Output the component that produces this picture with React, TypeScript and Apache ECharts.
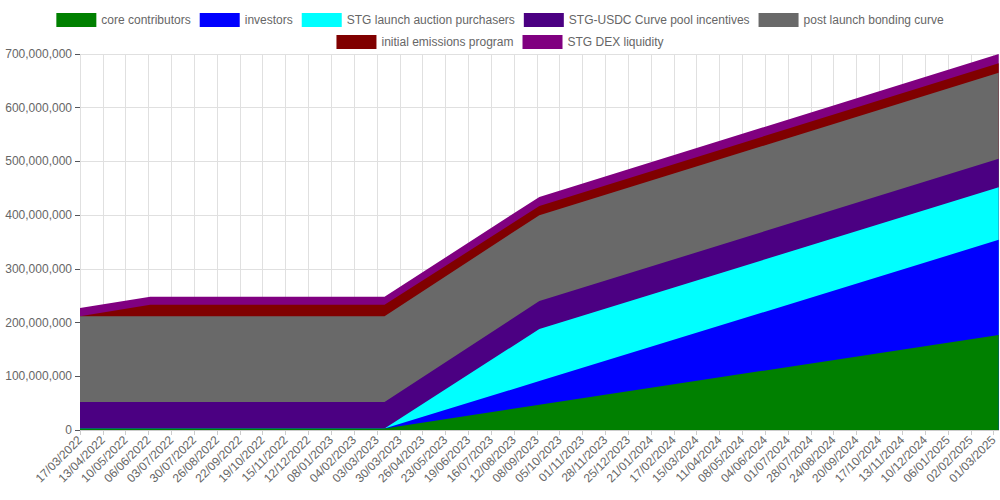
import React, { useEffect, useRef } from 'react';
import * as echarts from 'echarts';

// day offsets from 17/03/2022 where the schedule changes
const days = [0, 83, 360, 543, 1086];
const coreContributors = [3, 3, 3, 47, 177];
const investors = [0, 0, 0, 44, 177];
const auctionPurchasers = [0, 0, 0, 97, 98];
const curvePoolIncentives = [49, 49, 49, 52, 53];
const bondingCurve = [160, 160, 160, 160, 160];
const emissionsProgram = [0, 21, 21, 17, 18];
const dexLiquidity = [15, 15, 15, 17, 17];

const names = [
  'core contributors',
  'investors',
  'STG launch auction purchasers',
  'STG-USDC Curve pool incentives',
  'post launch bonding curve',
  'initial emissions program',
  'STG DEX liquidity',
];
const colors = ['#008000', '#0000ff', '#00ffff', '#4b0082', '#696969', '#800000', '#800080'];
const values = [
  coreContributors, investors, auctionPurchasers, curvePoolIncentives,
  bondingCurve, emissionsProgram, dexLiquidity,
];

const start = Date.UTC(2022, 2, 17);
const fmtDate = (d: number) => {
  const t = new Date(start + d * 86400000);
  const p = (n: number) => String(n).padStart(2, '0');
  return `${p(t.getUTCDate())}/${p(t.getUTCMonth() + 1)}/${t.getUTCFullYear()}`;
};

// running totals, so each area can be filled down to zero
const cumulative = values.map((_, i) =>
  days.map((_, j) => values.slice(0, i + 1).reduce((s, v) => s + v[j], 0))
);

const legendBase = {
  left: 'center',
  itemWidth: 40,
  itemHeight: 14,
  itemGap: 9,
  icon: 'rect',
  textStyle: { color: '#666', fontSize: 12 },
};

const App: React.FC = () => {
  const chartRef = useRef<HTMLDivElement>(null);

  useEffect(() => {
    const chart = echarts.init(chartRef.current!, null, { renderer: 'svg' });
    chart.setOption({
      animation: false,
      textStyle: { fontFamily: 'Arial, Liberation Sans, sans-serif' },
      color: colors,
      legend: [
        { ...legendBase, top: 8, data: names.slice(0, 5) },
        { ...legendBase, top: 30, data: names.slice(5) },
      ],
      grid: { left: 80, right: 0, top: 54, bottom: 70 },
      xAxis: {
        type: 'value',
        min: 0,
        max: 1086,
        interval: 27,
        axisLine: { lineStyle: { color: '#ccc' } },
        axisTick: { show: true, lineStyle: { color: '#ccc' } },
        splitLine: { show: true, lineStyle: { color: '#e0e0e0' } },
        axisLabel: {
          rotate: 45,
          color: '#666',
          fontSize: 12,
          showMaxLabel: false,
          formatter: (v: number) => fmtDate(v),
        },
      },
      yAxis: {
        type: 'value',
        min: 0,
        max: 700000000,
        interval: 100000000,
        axisLine: { show: false },
        splitLine: { lineStyle: { color: '#e0e0e0' } },
        axisLabel: {
          color: '#666',
          fontSize: 12,
          formatter: (v: number) => v.toLocaleString('en-US'),
        },
      },
      series: names.map((name, i) => ({
        name,
        type: 'line',
        showSymbol: false,
        z: 10 - i,
        lineStyle: { width: 0 },
        itemStyle: { color: colors[i] },
        areaStyle: { opacity: 1, color: colors[i] },
        data: days.map((d, j) => [d, cumulative[i][j] * 1000000]),
      })),
    });
    return () => {
      chart.dispose();
    };
  }, []);

  return (
    <div
      ref={chartRef}
      style={{ position: 'absolute', left: 0, top: 0, width: 1000, height: 500 }}
    />
  );
};

export default App;
